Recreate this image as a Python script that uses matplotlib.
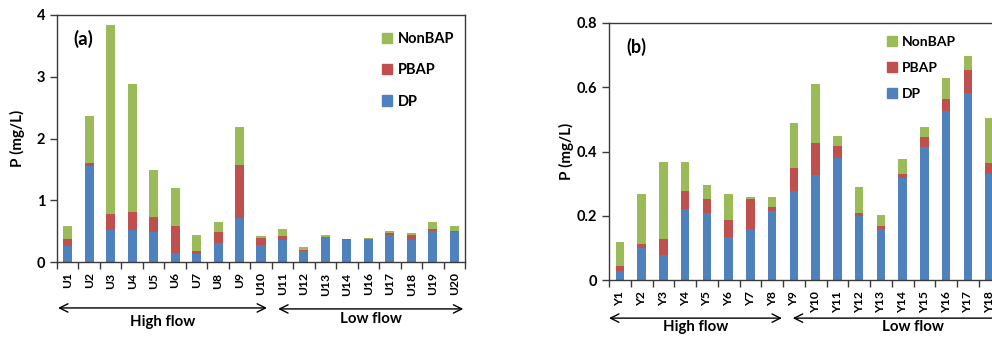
import matplotlib
matplotlib.use("Agg")
import matplotlib.pyplot as plt
import matplotlib.transforms as mtrans
from matplotlib.patches import Patch
import numpy as np

plt.rcParams['font.family'] = ['Lato', 'DejaVu Sans']
plt.rcParams['font.weight'] = 'bold'

# panel (a): U sites
u_sites = ["U1", "U2", "U3", "U4", "U5", "U6", "U7", "U8", "U9", "U10",
           "U11", "U12", "U13", "U14", "U16", "U17", "U18", "U19", "U20"]
u_dp = [0.26, 1.56, 0.52, 0.52, 0.48, 0.14, 0.13, 0.31, 0.72, 0.27,
        0.35, 0.18, 0.40, 0.36, 0.37, 0.44, 0.36, 0.50, 0.48]
u_pbap = [0.11, 0.05, 0.26, 0.29, 0.25, 0.44, 0.05, 0.17, 0.85, 0.12,
          0.07, 0.01, 0.01, 0.01, 0.01, 0.03, 0.07, 0.03, 0.02]
u_nonbap = [0.21, 0.75, 3.05, 2.08, 0.76, 0.62, 0.25, 0.17, 0.62, 0.03,
            0.11, 0.05, 0.02, 0.01, 0.01, 0.04, 0.04, 0.11, 0.09]

# panel (b): Y sites (figure is cropped after Y18)
y_sites = ["Y1", "Y2", "Y3", "Y4", "Y5", "Y6", "Y7", "Y8", "Y9", "Y10",
           "Y11", "Y12", "Y13", "Y14", "Y15", "Y16", "Y17", "Y18"]
y_dp = [0.029, 0.100, 0.078, 0.222, 0.208, 0.136, 0.158, 0.215, 0.279, 0.328,
        0.380, 0.200, 0.160, 0.317, 0.413, 0.525, 0.582, 0.332]
y_pbap = [0.017, 0.013, 0.050, 0.057, 0.046, 0.053, 0.095, 0.012, 0.070, 0.098,
          0.039, 0.008, 0.009, 0.015, 0.033, 0.039, 0.073, 0.033]
y_nonbap = [0.073, 0.155, 0.241, 0.090, 0.043, 0.078, 0.007, 0.031, 0.141, 0.184,
            0.031, 0.082, 0.033, 0.046, 0.030, 0.064, 0.042, 0.140]

c_dp = '#4F81BD'
c_pbap = '#C0504D'
c_non = '#9BBB59'
spine_c = '#3a3a3a'


def dibujar(ax, sitios, dp, pbap, non, ancho, ymax, paso, ntot):
    x = np.arange(len(sitios))
    dp = np.array(dp)
    pbap = np.array(pbap)
    non = np.array(non)
    ax.bar(x, dp, ancho, color=c_dp)
    ax.bar(x, pbap, ancho, bottom=dp, color=c_pbap)
    ax.bar(x, non, ancho, bottom=dp + pbap, color=c_non)
    ax.set_xlim(-0.5, ntot - 0.5)
    ax.set_ylim(0, ymax)
    ax.set_yticks(np.arange(0, ymax + paso / 2, paso))
    ax.set_xticks(x)
    ax.set_xticklabels(sitios, rotation=90, fontsize=8.7, fontweight='bold')
    ax.set_xticks(np.arange(-0.5, ntot, 1), minor=True)
    ax.tick_params(axis='x', which='major', length=0, pad=7.5)
    ax.tick_params(axis='x', which='minor', length=5, width=1, color=spine_c)
    ax.tick_params(axis='y', length=5, width=1, color=spine_c, labelsize=10.5)
    for s in ax.spines.values():
        s.set_color(spine_c)
        s.set_linewidth(1)
    ax.set_ylabel("P (mg/L)", fontsize=11, fontweight='bold')
    ax.yaxis.label.set_verticalalignment('center')
    handles = [Patch(color=c_non), Patch(color=c_pbap), Patch(color=c_dp)]
    return handles


def flecha(ax, x0, x1, y, texto, ytxt):
    tr = mtrans.blended_transform_factory(ax.transData, ax.transAxes)
    ax.annotate("", xy=(x1, y), xytext=(x0, y), xycoords=tr, textcoords=tr,
                arrowprops=dict(arrowstyle='<->', color='black', lw=1,
                                mutation_scale=15, shrinkA=0, shrinkB=0),
                annotation_clip=False)
    ax.text((x0 + x1) / 2, ytxt, texto, transform=tr, ha='center', va='center',
            fontsize=10.8, fontweight='bold', clip_on=False)


fig = plt.figure(figsize=(9.92, 3.37), dpi=100)

ax1 = fig.add_axes([57 / 992, 75 / 337, 408 / 992, 247 / 337])
h = dibujar(ax1, u_sites, u_dp, u_pbap, u_nonbap, 0.42, 4, 1, len(u_sites))
ax1.set_yticklabels(["0", "1", "2", "3", "4"])
ax1.yaxis.set_label_coords(-0.096, 0.5)
ax1.text(0.04, 0.903, "(a)", transform=ax1.transAxes, fontsize=13.5,
         fontweight='bold', va='center')
ax1.legend(h, ["NonBAP", "PBAP", "DP"], loc='upper left', bbox_to_anchor=(0.797, 0.93),
           frameon=False, fontsize=10.5, handlelength=0.7, handleheight=0.7,
           handletextpad=0.35, labelspacing=1.18, borderpad=0, borderaxespad=0)
flecha(ax1, -0.45, 9.28, -0.186, "High flow", -0.243)
flecha(ax1, 9.8, 18.42, -0.19, "Low flow", -0.232)

ax2 = fig.add_axes([609 / 992, 56.7 / 337, 435 / 992, 257.3 / 337])
h = dibujar(ax2, y_sites, y_dp, y_pbap, y_nonbap, 0.38, 0.8, 0.2, 20)
ax2.set_yticklabels(["0", "0.2", "0.4", "0.6", "0.8"])
ax2.spines['right'].set_visible(False)
ax2.yaxis.set_label_coords(-0.097, 0.5)
ax2.text(0.041, 0.907, "(b)", transform=ax2.transAxes, fontsize=13,
         fontweight='bold', va='center')
ax2.legend(h, ["NonBAP", "PBAP", "DP"], loc='upper left', bbox_to_anchor=(0.639, 0.95),
           frameon=False, fontsize=10, handlelength=0.7, handleheight=0.7,
           handletextpad=0.35, labelspacing=1.0, borderpad=0, borderaxespad=0)
flecha(ax2, -0.5, 7.45, -0.147, "High flow", -0.18)
flecha(ax2, 7.95, 19.0, -0.147, "Low flow", -0.18)

fig.savefig("out.png", dpi=100)
